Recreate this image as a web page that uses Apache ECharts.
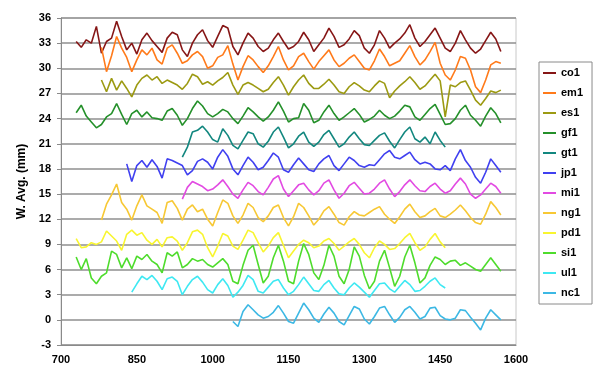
<!DOCTYPE html>
<html>
<head>
<meta charset="utf-8">
<script src="https://cdn.jsdelivr.net/npm/echarts@6/dist/echarts.min.js"></script>
<style>
  html, body { margin: 0; padding: 0; background: #ffffff; }
  #chart { width: 593px; height: 377px; }
</style>
</head>
<body>
<div id="chart"></div>
<script>
// Tree-ring width averages per site, sampled every 10 years.
const YEAR_STEP = 10;

const siteNames  = ['co1', 'em1', 'es1', 'gf1', 'gt1', 'jp1', 'mi1', 'ng1', 'pd1', 'si1', 'ul1', 'nc1'];
const siteStart  = [730, 780, 780, 730, 940, 830, 940, 780, 730, 730, 840, 1040];
const siteColors = ['#861616', '#ff7a1a', '#9c9a12', '#24902a', '#12877f', '#4040f0',
                    '#e24ae2', '#f7c834', '#f8f530', '#4edc2c', '#3ee8f2', '#3cb8e4'];

const co1 = [33.2,32.5,33.4,33.0,35.0,31.8,33.2,33.6,35.6,33.8,
             32.2,33.0,31.7,33.4,34.2,33.3,32.6,31.9,33.6,34.3,
             34.0,32.2,31.4,33.0,34.0,34.6,33.3,32.5,33.8,35.1,
             34.8,32.6,31.6,33.0,34.2,33.6,32.6,32.0,32.4,33.4,
             34.2,33.2,32.3,32.6,33.2,34.3,33.4,32.0,32.8,33.6,
             34.8,33.8,32.5,32.8,33.5,34.5,33.9,32.4,31.8,32.8,
             34.5,33.6,32.4,33.0,33.5,34.2,35.2,33.6,32.6,33.2,
             34.0,34.8,33.6,32.4,32.0,33.0,34.5,33.4,32.4,31.8,
             32.3,33.3,34.3,33.5,32.0];
const em1 = [32.5,29.6,31.5,33.8,32.4,31.3,29.6,31.0,32.2,31.6,
             32.4,31.0,30.5,32.4,32.8,31.8,30.6,30.9,31.6,32.0,
             31.4,30.0,30.3,31.3,31.6,32.7,30.5,28.6,30.2,31.5,
             31.0,30.2,29.5,30.3,31.4,32.6,31.0,29.8,30.3,31.4,
             31.8,30.8,29.9,30.8,31.5,32.2,31.0,30.2,30.6,31.2,
             31.6,30.8,30.0,29.8,30.9,32.3,31.4,30.3,30.6,30.9,
             31.8,32.7,31.4,30.4,31.0,32.0,33.1,30.6,29.2,28.6,
             29.8,31.4,31.2,29.8,27.8,27.1,28.6,30.4,30.8,30.6];
const es1 = [28.6,27.2,28.8,27.4,28.5,27.6,26.6,28.0,28.8,29.2,
             28.6,29.0,28.2,28.6,28.3,28.0,27.5,28.2,29.3,29.0,
             28.1,28.4,28.0,28.5,28.9,29.5,28.0,26.9,28.0,28.3,
             28.0,27.6,27.2,27.5,28.3,29.0,28.0,26.8,27.8,28.6,
             29.2,28.2,27.6,27.6,28.1,28.7,28.0,27.2,27.0,27.8,
             28.3,27.9,27.4,27.2,27.9,28.5,28.2,26.5,27.3,27.9,
             28.4,29.0,28.3,27.5,27.9,28.6,29.3,28.5,24.2,28.0,
             27.8,28.3,28.5,27.4,26.2,25.6,26.4,27.3,27.1,27.4];
const gf1 = [24.7,25.6,24.3,23.6,22.9,23.3,24.2,24.6,25.8,24.5,
             23.3,24.6,25.0,24.2,24.8,24.1,24.0,23.8,24.9,25.2,
             24.4,23.2,24.0,25.2,26.1,25.5,24.6,24.2,24.6,25.1,
             24.8,24.0,23.4,24.3,25.3,24.8,24.2,23.7,24.2,25.0,
             26.0,24.9,23.6,24.0,24.1,25.8,25.0,23.5,23.8,24.8,
             25.6,24.6,23.8,24.2,24.7,25.2,24.5,23.6,23.9,24.3,
             25.0,24.4,24.0,24.3,24.9,25.6,25.4,24.2,23.8,24.5,
             25.2,25.7,24.5,23.3,23.4,24.0,25.0,25.6,24.4,23.8,
             23.1,24.3,25.3,24.6,23.5];
const gt1 = [19.4,20.6,22.4,22.6,23.1,22.4,21.5,21.2,22.8,22.0,
             20.8,20.4,21.4,22.4,22.2,21.0,20.6,21.3,22.4,23.0,
             21.8,20.5,21.0,21.9,22.4,21.2,20.7,21.2,22.1,22.6,
             21.6,20.6,21.0,21.8,22.4,21.6,20.9,20.8,21.4,22.0,
             22.3,21.3,20.5,21.5,22.4,23.0,21.6,21.2,21.8,21.0,
             22.4,21.4,20.6];
const jp1 = [18.6,16.5,18.4,19.0,18.2,19.1,18.3,16.9,19.2,19.0,
             18.7,18.4,17.3,17.8,18.9,19.2,18.8,18.0,19.4,20.3,
             19.5,18.0,17.3,18.4,19.4,18.8,17.9,18.2,19.0,19.9,
             19.4,17.9,17.6,18.5,19.3,18.6,17.9,17.7,18.6,19.2,
             19.6,18.4,17.8,18.6,19.4,19.0,18.4,18.2,18.5,18.4,
             19.1,19.8,20.2,19.4,19.2,19.6,20.0,19.1,18.6,18.8,
             18.6,18.0,17.9,18.4,17.8,19.2,20.3,19.0,18.2,17.0,
             16.3,17.6,19.2,18.4,17.6];
const mi1 = [14.4,15.8,16.5,16.2,15.9,15.4,15.6,16.1,16.7,15.9,
             15.0,14.5,15.5,16.4,16.0,15.3,14.9,15.8,16.8,17.2,
             15.6,14.7,15.4,16.1,16.3,15.5,14.9,15.4,16.3,16.7,
             15.5,14.5,15.1,16.0,16.4,15.7,15.0,15.1,15.6,16.3,
             16.7,15.6,14.7,15.3,16.1,16.7,16.0,15.4,15.3,15.9,
             16.3,15.6,15.1,15.4,16.2,16.9,16.2,15.0,14.5,14.9,
             15.6,16.3,15.9,15.1];
const ng1 = [11.9,13.8,14.9,16.2,14.0,13.2,11.9,13.6,14.9,13.6,
             13.2,12.8,11.5,14.0,14.2,13.3,11.9,13.2,13.7,12.9,
             13.2,12.0,11.2,12.8,14.3,13.9,12.4,11.5,12.5,13.9,
             13.4,12.2,11.7,12.4,13.4,13.7,12.2,11.2,12.3,13.9,
             13.4,12.4,11.3,12.0,13.0,13.5,12.6,11.6,11.3,12.3,
             12.9,12.5,12.4,12.8,13.2,13.5,12.6,12.0,11.5,12.3,
             13.2,13.8,12.9,12.2,12.4,12.9,13.3,12.4,12.2,12.6,
             13.1,13.7,13.0,12.2,11.6,11.4,12.6,14.1,13.4,12.5];
const pd1 = [9.7,8.6,8.7,9.2,9.0,9.3,10.6,10.0,9.4,8.3,
             10.2,10.7,10.1,10.4,9.5,9.0,9.6,8.7,9.8,9.9,
             9.4,8.3,9.2,10.5,10.7,10.2,8.6,7.5,8.8,10.3,
             10.0,8.8,8.4,9.5,10.7,10.4,9.2,8.1,8.8,9.8,
             10.4,8.9,7.4,8.2,9.0,9.5,9.2,8.6,8.8,9.4,
             9.7,9.1,8.3,8.8,9.3,9.7,9.0,8.0,7.4,8.6,
             9.4,9.0,8.4,8.5,9.1,9.8,10.3,9.2,8.3,8.7,
             9.6,10.3,9.3,8.6];
const si1 = [7.5,6.0,7.3,5.0,4.3,5.2,5.6,8.2,7.8,6.2,
             7.4,6.1,7.6,7.2,7.8,7.0,6.6,5.6,8.0,7.6,
             8.1,6.2,6.6,7.3,7.0,7.2,6.6,6.3,6.8,7.3,
             6.6,4.6,4.3,6.5,8.3,8.9,6.6,4.4,5.2,7.4,
             8.9,7.0,4.6,4.3,7.0,9.1,7.8,5.6,4.8,6.5,
             8.9,7.6,5.2,4.3,6.0,8.7,7.6,5.3,3.7,4.6,
             7.0,8.3,6.2,4.0,5.2,7.5,8.9,6.8,4.4,5.0,
             6.5,7.5,7.2,6.6,7.0,7.1,6.5,6.8,6.4,6.0,
             5.8,6.6,7.4,6.6,5.8];
const ul1 = [3.3,4.3,5.2,4.8,5.3,4.6,3.6,4.9,5.1,4.6,
             3.0,4.0,4.8,5.2,4.5,3.6,3.2,4.2,4.9,4.1,
             2.7,3.3,4.1,5.3,4.8,3.4,3.2,3.9,4.6,4.8,
             3.8,3.0,3.4,4.2,5.1,4.3,3.5,3.4,4.2,4.7,
             3.8,3.1,3.0,3.8,4.4,3.9,3.3,2.7,3.5,4.3,
             4.4,3.7,3.3,4.0,4.7,4.2,3.4,3.5,4.0,4.6,
             5.0,4.2,3.8];
const nc1 = [-0.2,-0.8,1.0,1.8,1.2,0.6,0.2,0.4,0.9,1.7,
             0.8,-0.2,-0.4,0.8,2.0,1.2,0.2,-0.3,0.7,1.5,
             0.8,-0.2,-0.6,0.5,1.6,1.3,0.1,-0.5,0.4,1.4,
             1.6,0.6,-0.3,0.3,1.2,1.6,0.9,0.1,0.4,1.4,
             1.5,0.5,0.1,0.0,0.2,1.2,1.1,0.3,-0.4,-1.2,
             0.2,1.2,0.6,0.0];

const siteValues = [co1, em1, es1, gf1, gt1, jp1, mi1, ng1, pd1, si1, ul1, nc1];

const FONT = 'Arial, "Liberation Sans", sans-serif';
const labelFont = { fontFamily: FONT, fontWeight: 'bold', fontSize: 11, color: '#000' };

const series = siteNames.map((name, k) => ({
  name: name,
  type: 'line',
  showSymbol: false,
  symbol: 'none',
  animation: false,
  lineStyle: { color: siteColors[k], width: 1.6 },
  itemStyle: { color: siteColors[k] },
  data: siteValues[k].map((v, i) => [siteStart[k] + i * YEAR_STEP, v])
}));

const chart = echarts.init(document.getElementById('chart'), null, { renderer: 'canvas' });
chart.setOption({
  backgroundColor: '#ffffff',
  animation: false,
  grid: {
    left: 61, right: 77, top: 18, bottom: 32,
    show: true, borderColor: '#c8c8c8', borderWidth: 1, backgroundColor: '#ffffff'
  },
  xAxis: {
    type: 'value', min: 700, max: 1600, interval: 150,
    axisLine: { show: true, onZero: false, lineStyle: { color: '#8a8a8a', width: 1 } },
    axisTick: { show: false },
    splitLine: { show: false },
    axisLabel: Object.assign({ margin: 9, formatter: v => String(v) }, labelFont)
  },
  yAxis: {
    type: 'value', min: -3, max: 36, interval: 3,
    name: 'W. Avg. (mm)', nameLocation: 'middle', nameGap: 32, nameRotate: 90,
    nameTextStyle: { fontFamily: FONT, fontWeight: 'bold', fontSize: 12, color: '#000' },
    axisLine: { show: true, lineStyle: { color: '#8a8a8a', width: 1 } },
    axisTick: { show: true, length: 4, lineStyle: { color: '#8a8a8a' } },
    splitLine: { show: true, lineStyle: { color: '#8f8f8f', width: 1.6 } },
    axisLabel: Object.assign({ margin: 10 }, labelFont)
  },
  legend: {
    orient: 'vertical', left: 539, top: 62,
    padding: [4, 9, 4, 4], itemGap: 6,
    itemWidth: 13, itemHeight: 2, icon: 'rect',
    borderColor: '#8a8a8a', borderWidth: 1, backgroundColor: '#ffffff',
    textStyle: { fontFamily: FONT, fontWeight: 'bold', fontSize: 11, color: '#000', lineHeight: 14 },
    data: siteNames
  },
  series: series
});
</script>
</body>
</html>
